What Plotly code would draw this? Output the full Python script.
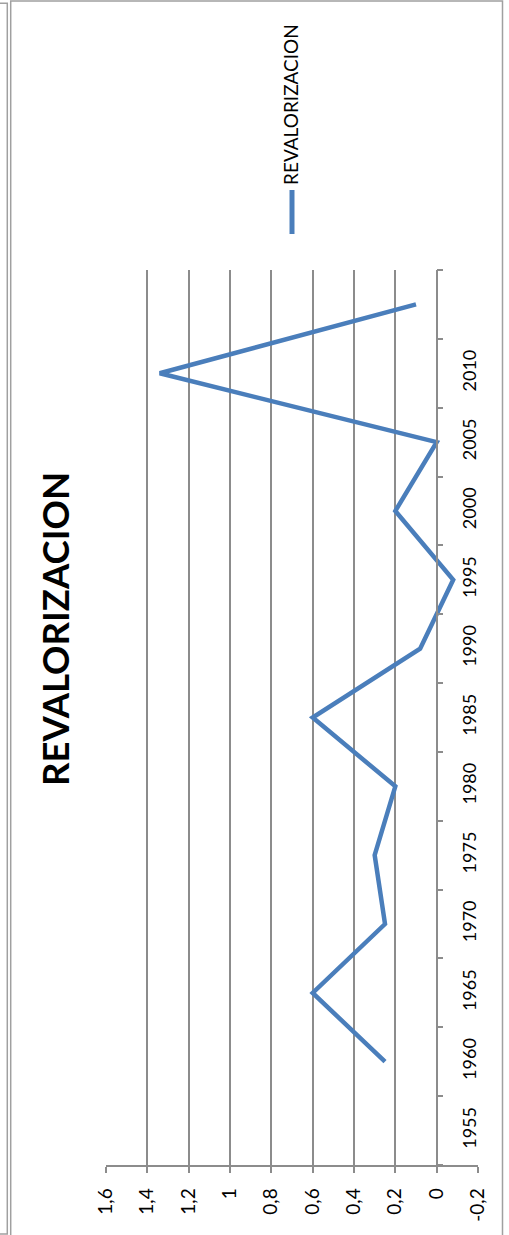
import plotly.graph_objects as go

# Series data
years = [1960, 1965, 1970, 1975, 1980, 1985, 1990, 1995, 2000, 2005, 2010, 2015]
revalorizacion = [0.25, 0.60, 0.25, 0.30, 0.20, 0.60, 0.08, -0.08, 0.20, 0.00, 1.34, 0.10]

# Axis labels
year_ticks = [1955, 1960, 1965, 1970, 1975, 1980, 1985, 1990, 1995, 2000, 2005, 2010]
value_ticks = [1.6, 1.4, 1.2, 1.0, 0.8, 0.6, 0.4, 0.2, 0.0, -0.2]
value_labels = ["1,6", "1,4", "1,2", "1", "0,8", "0,6", "0,4", "0,2", "0", "-0,2"]

series_name = "REVALORIZACION"
chart_title = "REVALORIZACION"

W, H = 509, 1235
L, R, T, B = 106, 478, 270, 1165
FONT = "Lato"
GRID = "#8c8c8c"
BLUE = "#4a7ebb"


def px(x):
    return (x - L) / (R - L)


def py(y):
    return (B - y) / (B - T)


vmin, vmax = -0.2, 1.6
zero_pos = (vmax - 0.0) / (vmax - vmin)
year_range = [1952.5, 2017.5]
year_bounds = [1952.5 + 5 * k for k in range(14)]

fig = go.Figure()
fig.add_trace(go.Scatter(
    x=revalorizacion, y=years, mode="lines", name=series_name,
    line=dict(color=BLUE, width=4.5), showlegend=False,
))
# invisible carrier for the year label axis
fig.add_trace(go.Scatter(x=[None], y=[None], yaxis="y2", showlegend=False,
                         hoverinfo="skip"))

fig.update_layout(
    width=W, height=H,
    margin=dict(l=L, r=W - R, t=T, b=H - B),
    paper_bgcolor="white", plot_bgcolor="white",
    font=dict(family=FONT, size=18, color="black"),
    xaxis=dict(
        range=[vmax, vmin], tickvals=value_ticks, ticktext=value_labels,
        tickangle=-90, showgrid=True, gridcolor=GRID, gridwidth=1.5,
        showline=True, linecolor=GRID, linewidth=1.5,
        ticks="outside", ticklen=6, tickcolor=GRID, tickwidth=1.5,
        zeroline=False, tickfont=dict(size=19), ticklabelstandoff=8,
    ),
    yaxis=dict(
        range=year_range, tickvals=year_bounds,
        ticktext=[""] * len(year_bounds),
        anchor="free", position=zero_pos, side="right",
        showgrid=False, zeroline=False,
        showline=True, linecolor=GRID, linewidth=1.5,
        ticks="outside", ticklen=6, tickcolor=GRID, tickwidth=1.5,
    ),
    yaxis2=dict(
        range=year_range, tickvals=year_ticks, tickangle=-90,
        overlaying="y", anchor="free", position=zero_pos, side="right",
        showgrid=False, zeroline=False, showline=False, ticks="",
        tickfont=dict(size=18), ticklabelstandoff=20,
    ),
)

# Chart title, rotated
fig.add_annotation(
    text="<b>" + chart_title + "</b>", textangle=-90,
    x=px(55), y=py(629), xref="paper", yref="paper",
    xanchor="center", yanchor="middle",
    showarrow=False, font=dict(size=36.5, family=FONT, color="black"),
)

# Legend entry, rotated
fig.add_shape(type="line", xref="paper", yref="paper",
              x0=px(292), x1=px(292), y0=py(190), y1=py(234),
              line=dict(color=BLUE, width=5))
fig.add_annotation(
    text=series_name, textangle=-90,
    x=px(291), y=py(105), xref="paper", yref="paper",
    xanchor="center", yanchor="middle",
    showarrow=False, font=dict(size=19, family=FONT, color="black"),
)

# Chart frame
frame = dict(color="#a0a0a0", width=1.5)
fig.add_shape(type="rect", xref="paper", yref="paper",
              x0=px(10.7), x1=px(502.5), y0=py(1240), y1=py(1),
              line=frame)
fig.add_shape(type="rect", xref="paper", yref="paper",
              x0=px(-5), x1=px(7.3), y0=py(1234), y1=py(3.3),
              line=frame)

fig.write_html("out.html")
